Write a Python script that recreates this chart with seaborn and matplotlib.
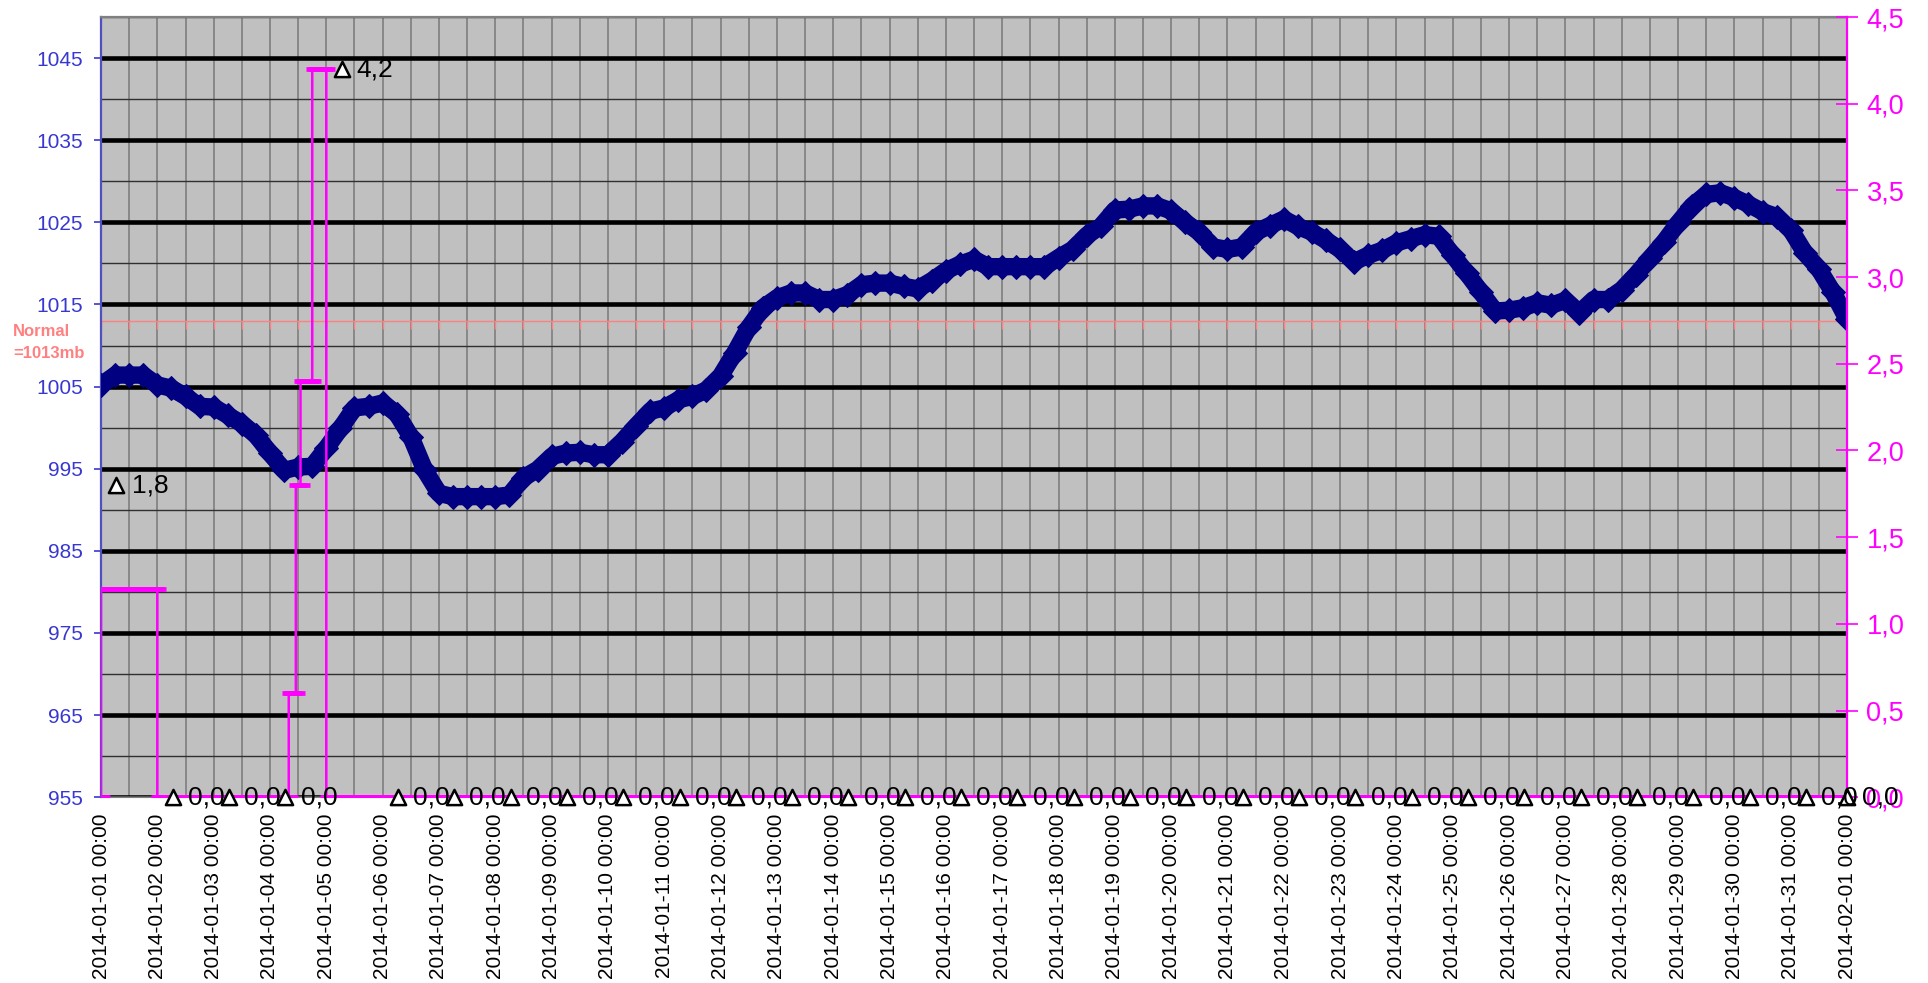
import numpy as np
import pandas as pd
import matplotlib.pyplot as plt
import matplotlib.dates as mdates
from matplotlib.ticker import FixedLocator, FuncFormatter
import seaborn as sns

# air pressure every 6 hours, 2014-01-01 00:00 .. 2014-02-01 00:00 (mb)
pressure_mb = [
    1005.2, 1006.4, 1006.4, 1006.4,   # Jan 1
    1005.2, 1004.8, 1003.8, 1002.6,   # Jan 2
    1002.5, 1001.5, 1000.5, 999.1,    # Jan 3
    996.9, 994.8, 995.2, 995.3,       # Jan 4
    997.5, 999.9, 1002.4, 1002.6,     # Jan 5
    1003.0, 1001.7, 998.9, 994.8,     # Jan 6
    992.0, 991.6, 991.6, 991.6,       # Jan 7
    991.6, 991.8, 993.9, 994.9,       # Jan 8
    996.5, 996.9, 997.0, 996.7,       # Jan 9
    996.7, 998.3, 1000.2, 1002.0,     # Jan 10
    1002.4, 1003.4, 1003.8, 1004.6,   # Jan 11
    1006.3, 1009.1, 1012.2, 1014.6,   # Jan 12
    1015.8, 1016.4, 1016.4, 1015.6,   # Jan 13
    1015.6, 1016.2, 1017.4, 1017.6,   # Jan 14
    1017.6, 1017.2, 1016.9, 1017.9,   # Jan 15
    1019.1, 1019.9, 1020.5, 1019.6,   # Jan 16
    1019.6, 1019.6, 1019.6, 1019.6,   # Jan 17
    1020.7, 1021.7, 1023.4, 1024.5,   # Jan 18
    1026.5, 1026.6, 1027.0, 1027.0,   # Jan 19
    1026.4, 1025.0, 1023.8, 1022.0,   # Jan 20
    1021.7, 1022.0, 1023.8, 1024.6,   # Jan 21
    1025.4, 1024.5, 1023.8, 1022.8,   # Jan 22
    1021.7, 1020.2, 1021.0, 1021.6,   # Jan 23
    1022.5, 1023.0, 1023.5, 1023.3,   # Jan 24
    1021.0, 1018.8, 1016.5, 1014.2,   # Jan 25
    1014.3, 1014.6, 1015.2, 1014.9,   # Jan 26
    1015.5, 1014.0, 1015.6, 1015.6,   # Jan 27
    1016.8, 1018.6, 1020.6, 1022.6,   # Jan 28
    1024.9, 1027.0, 1028.4, 1028.6,   # Jan 29
    1028.0, 1027.2, 1026.3, 1025.7,   # Jan 30
    1024.1, 1021.3, 1019.3, 1016.5,   # Jan 31
    1013.2,                           # Feb 1
]

# rain (mm): hour (from 2014-01-01 00:00) where a new reading starts, and its value
rain_start_hour = [0, 1, 25, 81, 84, 86, 91, 97]
rain_mm = [0.0, 1.2, 0.0, 0.6, 1.8, 2.4, 4.2, 0.0]

# second (grey) series, flat at zero
snow_start_hour = [0]
snow_mm = [0.0]

# daily totals marked with triangles
daily_total_mm = [1.8, 0.0, 0.0, 0.0, 4.2, 0.0, 0.0, 0.0, 0.0, 0.0, 0.0,
                  0.0, 0.0, 0.0, 0.0, 0.0, 0.0, 0.0, 0.0, 0.0, 0.0, 0.0,
                  0.0, 0.0, 0.0, 0.0, 0.0, 0.0, 0.0, 0.0, 0.0, 0.0]

normal_mb = 1013
total_hours = 744
start = pd.Timestamp("2014-01-01 00:00")
end = pd.Timestamp("2014-02-01 00:00")

# build time axes
p_times = pd.date_range(start, periods=len(pressure_mb), freq="6h")
hours = np.arange(0, total_hours + 1)
h_times = start + pd.to_timedelta(hours, unit="h")
rain = pd.Series(rain_mm, index=rain_start_hour).reindex(hours).ffill().values
snow = pd.Series(snow_mm, index=snow_start_hour).reindex(hours).ffill().values
daily_times = list(pd.date_range("2014-01-01 06:30", periods=31, freq="D")) + [end]
normal_times = pd.date_range(start, end, freq="12h")

sns.set_style("white")
plt.rcParams["font.family"] = ["Liberation Sans", "DejaVu Sans"]

fig = plt.figure(figsize=(19.28, 9.83), dpi=100)
ax = fig.add_axes([0.0524, 0.189, 0.9056, 0.7937])
ax.set_facecolor("#C0C0C0")

# normal pressure line
ax.plot(normal_times, [normal_mb] * len(normal_times), color="#FF8080", lw=1,
        marker=3, ms=6, mew=1, zorder=2)

# pressure
sns.lineplot(x=p_times, y=pressure_mb, ax=ax, color="#000080", lw=12.5,
             marker="D", ms=12, mec="#000080", zorder=3)

ax.set_xlim(start, end)
ax.set_ylim(955, 1050)
ax.yaxis.set_major_locator(FixedLocator(np.arange(955, 1046, 10)))
ax.yaxis.set_minor_locator(FixedLocator(np.arange(960, 1051, 10)))
ax.xaxis.set_major_locator(mdates.DayLocator())
ax.xaxis.set_minor_locator(mdates.HourLocator(byhour=[12]))
ax.xaxis.set_major_formatter(mdates.DateFormatter("%Y-%m-%d %H:%M"))
ax.set_axisbelow(True)
ax.grid(which="both", axis="x", color="#848484", lw=1.3)
ax.grid(which="major", axis="y", color="black", lw=3.3)
ax.grid(which="minor", axis="y", color="#303030", lw=1)
ax.set_xlabel("")
ax.set_ylabel("")

ax.tick_params(axis="y", which="major", colors="#3838D0", labelsize=15,
               length=5, width=1.2, pad=8, direction="out")
ax.tick_params(axis="y", which="minor", length=0)
ax.tick_params(axis="x", which="both", length=0, labelsize=15, pad=12,
               labelrotation=90, colors="black")
ax.spines["left"].set_color("#5050C0")
ax.spines["left"].set_linewidth(1.6)
ax.spines["top"].set_color("#808080")
ax.spines["top"].set_linewidth(1.6)
ax.spines["bottom"].set_color("#808080")
ax.spines["right"].set_visible(False)

# right axis: rain
ax2 = ax.twinx()
sns.lineplot(x=h_times, y=snow, ax=ax2, color="#505050", lw=1.5, zorder=2)
sns.lineplot(x=h_times, y=rain, ax=ax2, color="#FF00FF", lw=1.8,
             drawstyle="steps-pre", marker="_", ms=13, mew=3.4,
             mec="#FF00FF", zorder=3)
sns.scatterplot(x=daily_times, y=daily_total_mm, ax=ax2, marker="^", s=120,
                facecolor="white", edgecolor="black", linewidth=1.8,
                zorder=5, clip_on=False)
for t, v in zip(daily_times, daily_total_mm):
    ax2.annotate(f"{v:.1f}".replace(".", ","), (t, v), xytext=(11, 0),
                 textcoords="offset points", va="center", ha="left",
                 fontsize=19, color="black", zorder=6, annotation_clip=False)

ax2.set_xlim(start, end)
ax2.set_ylim(0, 4.5)
ax2.yaxis.set_major_locator(FixedLocator(np.arange(0, 4.51, 0.5)))
ax2.yaxis.set_major_formatter(FuncFormatter(lambda v, p: f"{v:.1f}".replace(".", ",")))
ax2.tick_params(axis="y", colors="#FF00FF", labelsize=19.5, length=16,
                width=1.2, direction="inout", pad=6)
ax2.set_ylabel("")
ax2.grid(False)
for side in ["left", "top", "bottom"]:
    ax2.spines[side].set_visible(False)
ax2.spines["right"].set_color("#FF00FF")
ax2.spines["right"].set_linewidth(1.6)

fig.text(13 / 1928, 1 - 332 / 983, "Normal", color="#FF8080",
         fontsize=12, fontweight="bold", va="center", ha="left")
fig.text(13 / 1928, 1 - 354 / 983, "=1013mb", color="#FF8080",
         fontsize=12, fontweight="bold", va="center", ha="left")

fig.savefig("out.png", dpi=100)
